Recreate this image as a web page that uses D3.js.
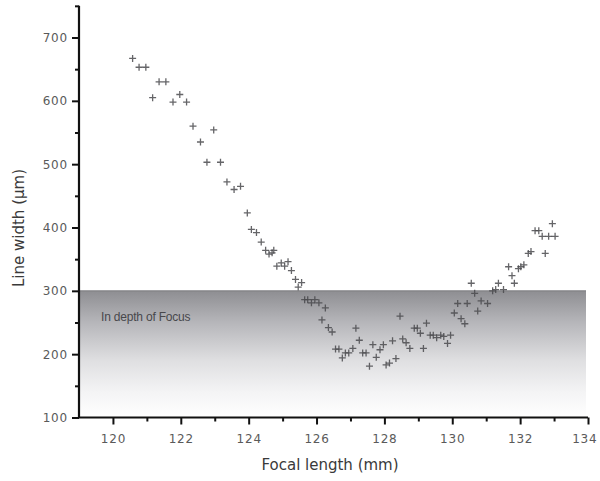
<!DOCTYPE html>
<html><head><meta charset="utf-8">
<script src="https://cdn.jsdelivr.net/npm/d3@7"></script>
<style>html,body{margin:0;padding:0;background:#fff;}svg{display:block;}</style>
</head><body>
<script>
const focalLength = [120.58,120.77,120.97,121.36,121.56,121.17,121.97,121.77,122.17,122.36,122.97,122.58,122.77,123.17,123.36,123.57,123.76,123.96,124.08,124.23,124.37,124.5,124.6,124.69,124.74,124.83,124.96,125.06,125.16,125.26,125.38,125.56,125.46,125.65,125.74,125.85,125.95,126.07,126.26,126.16,126.35,126.46,127.16,126.56,126.66,126.76,126.85,126.95,127.07,127.26,127.36,127.46,127.66,127.56,127.76,127.87,127.97,128.05,128.15,128.34,128.24,128.46,128.54,128.64,128.75,128.88,128.97,129.06,129.15,129.24,129.35,129.44,129.54,129.66,129.75,129.95,129.86,130.06,130.16,130.26,130.37,130.44,130.56,130.66,130.75,130.85,131.04,131.19,131.28,131.36,131.51,131.66,131.76,131.83,131.95,132.02,132.11,132.24,132.32,132.44,132.55,132.65,132.84,133.03,132.74,132.95];
const lineWidth = [667,653,653,630,630,605,610,598,598,560,554,535,503,503,472,460,465,423,397,392,377,364,358,360,364,339,344,339,346,332,318,313,306,286,286,281,286,281,273,254,242,235,241,208,208,194,202,202,209,222,202,202,215,181,195,207,215,183,186,193,221,260,224,218,209,241,241,233,209,249,230,230,226,230,228,230,217,265,280,256,248,280,312,296,268,284,280,300,302,312,302,338,324,312,335,338,341,359,362,395,395,386,386,386,359,406];
const xTicks = [120,122,124,126,128,130,132,134];
const xMinor = [121,123,125,127,129,131,133];
const yTicks = [100,200,300,400,500,600,700];
const yMinor = [150,250,350,450,550,650,750];
const focusRange = [100,300];
const focusLabel = "In depth of Focus";
const xTitle = "Focal length (mm)";
const yTitle = "Line width (\u03bcm)";

const W=600,H=481;
const svg=d3.select("body").append("svg").attr("width",W).attr("height",H);
const x=d3.scaleLinear().domain([119,134]).range([79,588]);
const y=d3.scaleLinear().domain([100,700]).range([417.5,37.5]);

const defs=svg.append("defs");
const g=defs.append("linearGradient").attr("id","fg").attr("x1",0).attr("y1",0).attr("x2",0).attr("y2",1);
g.append("stop").attr("offset","0%").attr("stop-color","#8e8e92");
g.append("stop").attr("offset","25%").attr("stop-color","#b6b6ba");
g.append("stop").attr("offset","55%").attr("stop-color","#dfdfe1");
g.append("stop").attr("offset","80%").attr("stop-color","#f4f4f5");
g.append("stop").attr("offset","100%").attr("stop-color","#ffffff");

svg.append("rect").attr("x",x(119)).attr("y",y(focusRange[1]))
  .attr("width",x(134)-x(119)-2).attr("height",y(focusRange[0])-y(focusRange[1]))
  .attr("fill","url(#fg)");
svg.append("line").attr("x1",x(119)).attr("x2",x(134)-2).attr("y1",y(focusRange[1])).attr("y2",y(focusRange[1]))
  .attr("stroke","#7a7a7e").attr("stroke-width",1);

svg.append("text").attr("x",x(119.65)).attr("y",y(253)).text(focusLabel)
  .attr("font-family","Liberation Sans, Arial, sans-serif").attr("font-size",12)
  .attr("fill","#48484c").attr("letter-spacing","-0.2");

// points
svg.append("g").selectAll("path").data(focalLength).join("path")
  .attr("transform",(d,i)=>`translate(${x(d)},${y(lineWidth[i])})`)
  .attr("d","M-3.5,0H3.5M0,-3.5V3.5")
  .attr("stroke","#4a4a4e").attr("stroke-width",1.3).attr("fill","none").attr("opacity",0.85);

// axes
const xa=svg.append("g").attr("transform",`translate(0,${y(100)})`)
  .call(d3.axisBottom(x).tickValues(xTicks).tickSize(7).tickPadding(6).tickFormat(d3.format("d")));
const xm=svg.append("g").attr("transform",`translate(0,${y(100)})`)
  .call(d3.axisBottom(x).tickValues(xMinor).tickSize(4).tickFormat(""));
const ya=svg.append("g").attr("transform",`translate(${x(119)},0)`)
  .call(d3.axisLeft(y).tickValues(yTicks).tickSize(7).tickPadding(4).tickFormat(d3.format("d")));
const ym=svg.append("g").attr("transform",`translate(${x(119)},0)`)
  .call(d3.axisLeft(y).tickValues(yMinor).tickSize(4).tickFormat(""));
xm.select(".domain").remove(); ym.select(".domain").remove();
xa.select(".domain").attr("d",`M${x(119)},0H${x(134)}`);
ya.select(".domain").attr("d",`M0,${y(750)}V${y(100)}`);
svg.selectAll(".domain").attr("stroke","#111").attr("stroke-width",2.2);
svg.selectAll(".tick line").attr("stroke","#111").attr("stroke-width",2);
svg.selectAll(".tick text").attr("font-family","DejaVu Sans, sans-serif").attr("font-size",12)
  .attr("fill","#5a5a5a").attr("letter-spacing","0.8");
xa.selectAll(".tick text").attr("dy","1em");
xa.selectAll(".tick").filter(d=>d===134).select("text").attr("text-anchor","end").attr("dx","9");

svg.append("text").attr("x",330).attr("y",470).attr("text-anchor","middle").text(xTitle)
  .attr("font-family","DejaVu Sans, sans-serif").attr("font-size",15).attr("fill","#3a3a3a");
svg.append("text").attr("transform","translate(24,228) rotate(-90)").attr("text-anchor","middle").text(yTitle)
  .attr("font-family","DejaVu Sans, sans-serif").attr("font-size",15).attr("fill","#3a3a3a");
</script>
</body></html>
